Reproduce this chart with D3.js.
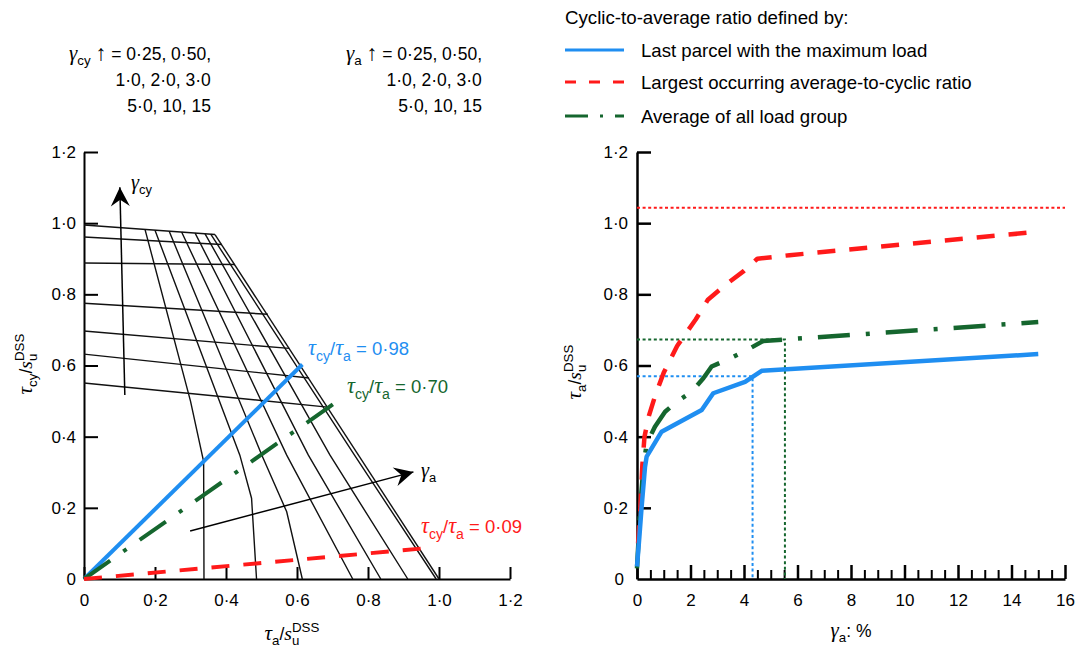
<!DOCTYPE html>
<html>
<head>
<meta charset="utf-8">
<script src="https://cdn.jsdelivr.net/npm/d3@7/dist/d3.min.js"></script>
<style>
  html, body { margin: 0; padding: 0; background: #fff; }
  svg text { font-family: "Liberation Sans", Arial, Helvetica, sans-serif; }
</style>
</head>
<body>
<svg id="fig" width="1077" height="650"></svg>
<script>
// ---------- tick values / labels ----------
const stressTicks = [0, 0.2, 0.4, 0.6, 0.8, 1.0, 1.2];
const stressTickLabels = ["0", "0·2", "0·4", "0·6", "0·8", "1·0", "1·2"];
const strainMajorTicks = [0, 2, 4, 6, 8, 10, 12, 14, 16];
const strainMajorLabels = ["0", "2", "4", "6", "8", "10", "12", "14", "16"];
const strainMinorTicks = [0.5, 1, 1.5, 2.5, 3, 3.5, 4.5, 5, 5.5, 6.5, 7, 7.5, 8.5, 9, 9.5,
                          10.5, 11, 11.5, 12.5, 13, 13.5, 14.5, 15, 15.5];

// ---------- left panel: strain contours in (τa/su, τcy/su) ----------
// lines of constant cyclic strain γcy
const gammaCyContours = [
  [[0, 0.995], [0.369, 0.968]],
  [[0, 0.961], [0.388, 0.940]],
  [[0, 0.888], [0.425, 0.884]],
  [[0, 0.775], [0.518, 0.744]],
  [[0, 0.697], [0.578, 0.648]],
  [[0, 0.632], [0.634, 0.565]],
  [[0, 0.551], [0.686, 0.483]]
];
// lines of constant average strain γa
const gammaAContours = [
  [[0.172, 0.982], [0.300, 0.500], [0.337, 0.330], [0.338, 0]],
  [[0.200, 0.980], [0.439, 0.348], [0.472, 0.227], [0.486, 0]],
  [[0.240, 0.977], [0.501, 0.348], [0.571, 0.189], [0.615, 0]],
  [[0.275, 0.975], [0.571, 0.348], [0.757, 0]],
  [[0.313, 0.972], [0.632, 0.348], [0.836, 0]],
  [[0.341, 0.970], [0.693, 0.348], [0.912, 0]],
  [[0.357, 0.969], [0.762, 0.348], [0.992, 0]],
  [[0.369, 0.968], [1.000, 0]]
];

// cyclic-to-average ratios and how far each line runs along τa/su
const ratioValues = [0.98, 0.70, 0.09];
const ratioLabels = ["0·98", "0·70", "0·09"];
const ratioReach = [0.615, 0.72, 0.96];

// ---------- right panel: γa (%) vs τa/su ----------
const lastParcelGamma = [0, 0.09, 0.17, 0.30, 0.36, 0.92, 2.42, 2.85, 4.04, 4.66, 15.0];
const lastParcelTau   = [0.035, 0.12, 0.20, 0.315, 0.344, 0.414, 0.475, 0.522, 0.554, 0.585, 0.632];

const largestRatioGamma = [0.04, 0.12, 0.20, 0.28, 0.45, 0.70, 1.00, 1.50, 2.20, 2.65, 3.40, 4.00, 4.50, 5.70, 15.0];
const largestRatioTau   = [0.10, 0.19, 0.32, 0.40, 0.46, 0.52, 0.58, 0.655, 0.73, 0.785, 0.832, 0.866, 0.90, 0.91, 0.976];

const averageGamma = [0, 0.05, 0.12, 0.24, 0.36, 0.67, 1.05, 1.48, 2.04, 2.48, 2.79, 3.48, 4.10, 4.72, 15.0];
const averageTau   = [0.03, 0.10, 0.20, 0.315, 0.38, 0.428, 0.47, 0.498, 0.526, 0.564, 0.597, 0.62, 0.643, 0.669, 0.722];

const maxRatioLevel = 1.043;          // upper red dotted level
const lastParcelPick = [4.32, 0.570]; // [γa, τa/su]
const averagePick = [5.53, 0.673];

const legendTitle = "Cyclic-to-average ratio defined by:";
const legendLabels = ["Last parcel with the maximum load",
                      "Largest occurring average-to-cyclic ratio",
                      "Average of all load group"];

// ---------- styling ----------
const BLUE = "#1f8ef1", RED = "#ff1a1a", GREEN = "#15662e";
const SANS = '"Liberation Sans", Arial, Helvetica, sans-serif';
const SERIF = '"Liberation Serif", "DejaVu Serif", serif';
const DASH_RED = "18,14";
const DASH_GREEN = "32,16,4,16";

const svg = d3.select("#fig");

// rich text: segments with italic Greek / subscript / stacked superscript
function rich(parent, segs, o) {
  const g = parent.append("g");
  const t = g.append("text").attr("font-size", o.size).attr("fill", o.fill || "#000");
  let cur = 0, prev = null;
  for (const s of segs) {
    const small = s.k === "sub" || s.k === "sup" || s.k === "over";
    const off = s.k === "sub" ? 0.3 * o.size : (s.k === "sup" || s.k === "over") ? -0.45 * o.size : 0;
    let fs = small ? o.size * 0.76 : o.size;
    if (s.g) fs = o.size * 1.2;
    if (s.big) fs = o.size * s.big;
    const ts = t.append("tspan").text(s.t).attr("font-size", fs).attr("dy", off - cur);
    if (s.i) ts.attr("font-style", "italic").attr("font-family", SERIF);
    if (s.k === "over" && prev) ts.attr("dx", -prev.getComputedTextLength());
    cur = off;
    prev = ts.node();
  }
  const bb = t.node().getBBox();
  let shift = 0;
  if (o.anchor === "middle") shift = -(bb.x + bb.width / 2);
  else if (o.anchor === "end") shift = -(bb.x + bb.width);
  t.attr("transform", `translate(${shift},0)`);
  g.attr("transform", `translate(${o.x},${o.y}) rotate(${o.rotate || 0})`);
  return g;
}

const tauOverSu = sub => [
  { t: "τ", i: 1, g: 1 }, { t: sub, k: "sub" }, { t: "/" },
  { t: "s", i: 1, big: 1.12 }, { t: "u", k: "sub" }, { t: "DSS", k: "over" }
];
const gammaSym = sub => [{ t: "γ", i: 1, g: 1 }, { t: sub, k: "sub" }];

function styleAxis(sel, w) {
  sel.attr("font-size", 17).attr("font-family", SANS);
  sel.select(".domain").attr("stroke", "#000").attr("stroke-width", w);
  sel.selectAll(".tick line").attr("stroke", "#000").attr("stroke-width", w);
  sel.selectAll(".tick text").attr("fill", "#000");
}

function arrow(g, p0, p1) {
  g.append("line")
    .attr("x1", p0[0]).attr("y1", p0[1]).attr("x2", p1[0]).attr("y2", p1[1])
    .attr("stroke", "#000").attr("stroke-width", 1.5);
  const ang = Math.atan2(p1[1] - p0[1], p1[0] - p0[0]) * 180 / Math.PI;
  g.append("path").attr("d", "M0,0L-19,-9.5L-12.5,0L-19,9.5Z").attr("fill", "#000")
    .attr("transform", `translate(${p1[0]},${p1[1]}) rotate(${ang})`);
}

const fmtStress = v => stressTickLabels[stressTicks.indexOf(v)];

// =================== LEFT PANEL ===================
const xL = d3.scaleLinear().domain([0, 1.2]).range([84, 510]);
const yL = d3.scaleLinear().domain([0, 1.2]).range([579, 152]);
const left = svg.append("g");

left.append("g").attr("transform", `translate(0,${yL(0)})`)
  .call(d3.axisBottom(xL).tickValues(stressTicks).tickFormat(fmtStress)
    .tickSizeInner(-12).tickSizeOuter(0).tickPadding(15))
  .call(s => styleAxis(s, 2));
left.append("g").attr("transform", `translate(${xL(0)},0)`)
  .call(d3.axisLeft(yL).tickValues(stressTicks.slice(1)).tickFormat(fmtStress)
    .tickSizeInner(-14).tickSizeOuter(0).tickPadding(8))
  .call(s => styleAxis(s, 2));
left.append("text").attr("x", xL(0) - 8).attr("y", yL(0) + 6).attr("text-anchor", "end")
  .attr("font-size", 17).text("0");

const lineL = d3.line().x(d => xL(d[0])).y(d => yL(d[1]));
const grid = left.append("g").attr("fill", "none").attr("stroke", "#111").attr("stroke-width", 1.4);
grid.selectAll("path.cy").data(gammaCyContours).join("path").attr("class", "cy").attr("d", lineL);
grid.selectAll("path.ga").data(gammaAContours).join("path").attr("class", "ga").attr("d", lineL);

// direction arrows for increasing strain
const cyArrow = [[0.115, 0.517], [0.101, 1.101]];
const aArrow = [[0.299, 0.135], [0.928, 0.301]];
const toPx = p => [xL(p[0]), yL(p[1])];
arrow(left, toPx(cyArrow[0]), toPx(cyArrow[1]));
arrow(left, toPx(aArrow[0]), toPx(aArrow[1]));
rich(left, gammaSym("cy"), { x: 131, y: 189, size: 17 });
rich(left, gammaSym("a"), { x: 421, y: 477, size: 17 });

// ratio lines from the origin
const ratioStyles = [
  { c: BLUE, dash: null },
  { c: GREEN, dash: DASH_GREEN },
  { c: RED, dash: DASH_RED }
];
ratioValues.forEach((r, i) => {
  left.append("path")
    .attr("d", lineL([[0, 0], [ratioReach[i], ratioReach[i] * r]]))
    .attr("fill", "none").attr("stroke", ratioStyles[i].c).attr("stroke-width", 4)
    .attr("stroke-dasharray", ratioStyles[i].dash);
});
const ratioLabelPos = [[308, 355], [347, 393], [421, 533]];
ratioValues.forEach((r, i) => {
  rich(left, [{ t: "τ", i: 1, g: 1 }, { t: "cy", k: "sub" }, { t: "/" }, { t: "τ", i: 1, g: 1 },
              { t: "a", k: "sub" }, { t: " = " + ratioLabels[i] }],
    { x: ratioLabelPos[i][0], y: ratioLabelPos[i][1], size: 18.5, fill: ratioStyles[i].c });
});

rich(left, tauOverSu("a"), { x: 292, y: 640, size: 17.5, anchor: "middle" });
rich(left, tauOverSu("cy"), { x: 32, y: 364, size: 17.5, anchor: "middle", rotate: -90 });

// strain level lists
const levelLines = [["0·25, 0·50,", 60], ["1·0, 2·0, 3·0", 86], ["5·0, 10, 15", 112]];
[["cy", 211], ["a", 482]].forEach(([sub, xr]) => {
  levelLines.forEach(([txt, y], j) => {
    if (j === 0) rich(svg, [...gammaSym(sub), { t: " " }, { t: "↑", big: 1.25 }, { t: " = " + txt }],
      { x: xr, y, size: 17.5, anchor: "end" });
    else rich(svg, [{ t: txt }], { x: xr, y, size: 17.5, anchor: "end" });
  });
});

// =================== RIGHT PANEL ===================
const xR = d3.scaleLinear().domain([0, 16]).range([637, 1065]);
const yR = d3.scaleLinear().domain([0, 1.2]).range([579, 152]);
const right = svg.append("g");

right.append("g").attr("transform", `translate(0,${yR(0)})`)
  .call(d3.axisBottom(xR).tickValues(strainMinorTicks).tickFormat(() => "")
    .tickSizeInner(-9).tickSizeOuter(0))
  .call(s => { styleAxis(s, 2); s.select(".domain").remove(); });
right.append("g").attr("transform", `translate(0,${yR(0)})`)
  .call(d3.axisBottom(xR).tickValues(strainMajorTicks)
    .tickFormat(v => strainMajorLabels[strainMajorTicks.indexOf(v)])
    .tickSizeInner(-14).tickSizeOuter(0).tickPadding(15))
  .call(s => styleAxis(s, 2.5));
right.append("g").attr("transform", `translate(${xR(0)},0)`)
  .call(d3.axisLeft(yR).tickValues(stressTicks.slice(1)).tickFormat(fmtStress)
    .tickSizeInner(-14).tickSizeOuter(0).tickPadding(9))
  .call(s => styleAxis(s, 2.5));
right.append("text").attr("x", xR(0) - 13).attr("y", yR(0) + 6).attr("text-anchor", "end")
  .attr("font-size", 17).text("0");

// dotted reference levels
const dotted = (pts, c) => right.append("path").attr("d", d3.line()(pts)).attr("fill", "none")
  .attr("stroke", c).attr("stroke-width", 2).attr("stroke-dasharray", "3,2.6");
dotted([[xR(0), yR(maxRatioLevel)], [xR(16), yR(maxRatioLevel)]], RED);
dotted([[xR(0), yR(lastParcelPick[1])], [xR(lastParcelPick[0]), yR(lastParcelPick[1])],
        [xR(lastParcelPick[0]), yR(0)]], BLUE);
dotted([[xR(0), yR(averagePick[1])], [xR(averagePick[0]), yR(averagePick[1])],
        [xR(averagePick[0]), yR(0)]], GREEN);

const lineR = d3.line().x(d => xR(d[0])).y(d => yR(d[1]));
const curves = [
  { g: averageGamma, t: averageTau, c: GREEN, dash: DASH_GREEN },
  { g: largestRatioGamma, t: largestRatioTau, c: RED, dash: DASH_RED },
  { g: lastParcelGamma, t: lastParcelTau, c: BLUE, dash: null }
];
curves.forEach(cv => {
  right.append("path").attr("d", lineR(cv.g.map((g, i) => [g, cv.t[i]])))
    .attr("fill", "none").attr("stroke", cv.c).attr("stroke-width", 4.5)
    .attr("stroke-linejoin", "round").attr("stroke-dasharray", cv.dash);
});

rich(right, [{ t: "γ", i: 1, g: 1 }, { t: "a", k: "sub" }, { t: ": %" }], { x: 851, y: 637, size: 17.5, anchor: "middle" });
rich(right, tauOverSu("a"), { x: 581, y: 372, size: 17.5, anchor: "middle", rotate: -90 });

// legend
const legend = svg.append("g");
legend.append("text").attr("x", 565).attr("y", 24).attr("font-size", 18.7).text(legendTitle);
const legendStyles = [
  { c: BLUE, dash: null },
  { c: RED, dash: "11,13" },
  { c: GREEN, dash: "23,12,3,12" }
];
const legendRows = [50, 82, 116];
legendLabels.forEach((lab, i) => {
  legend.append("line").attr("x1", 565).attr("x2", 624)
    .attr("y1", legendRows[i]).attr("y2", legendRows[i])
    .attr("stroke", legendStyles[i].c).attr("stroke-width", 3)
    .attr("stroke-dasharray", legendStyles[i].dash);
  legend.append("text").attr("x", 641).attr("y", legendRows[i] + 6.5).attr("font-size", 18.6).text(lab);
});
</script>
</body>
</html>
